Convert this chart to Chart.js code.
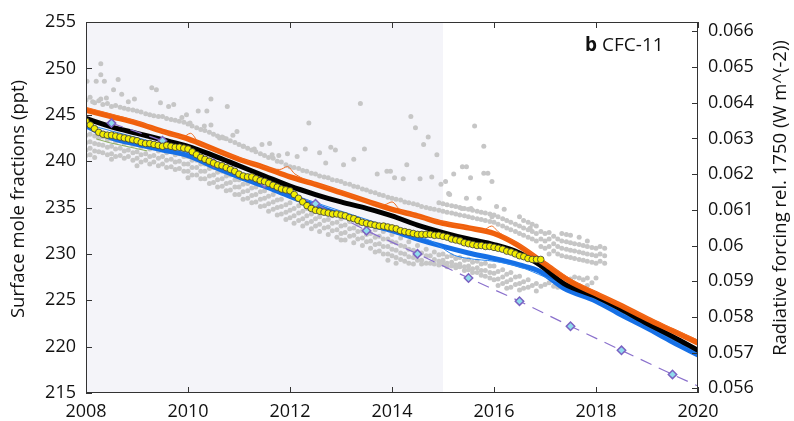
<!DOCTYPE html>
<html>
<head>
<meta charset="utf-8">
<script src="https://cdn.jsdelivr.net/npm/chart.js@4.4.1/dist/chart.umd.min.js"></script>
<style>
  html, body { margin: 0; padding: 0; background: #fff; }
  #wrap { width: 794px; height: 421px; }
</style>
</head>
<body>
<div id="wrap"><canvas id="cfcChart" width="794" height="421"></canvas></div>
<script>
// axes
const xTicks = [2008, 2010, 2012, 2014, 2016, 2018, 2020];
const pptTicks = [215, 220, 225, 230, 235, 240, 245, 250, 255];
const forcingTicks = [0.056, 0.057, 0.058, 0.059, 0.06, 0.061, 0.062, 0.063, 0.064, 0.065, 0.066];
const forcingPerPpt = 0.00025985;
const shadeFrom = 2008;
const shadeTo = 2015;

// thick model lines
const orangeYears = [2008, 2008.5, 2009, 2009.5, 2010, 2010.5, 2011, 2011.5, 2012, 2012.5, 2013, 2013.5, 2014, 2014.5, 2015, 2015.5, 2016, 2016.45, 2017, 2017.5, 2018, 2018.5, 2019, 2019.5, 2020];
const orangeValues = [245.5, 244.8, 244.1, 243.2, 242.4, 241.3, 240.2, 239.3, 238.3, 237.5, 236.6, 235.7, 234.8, 234.1, 233.3, 232.8, 232.2, 231.0, 228.9, 227.0, 225.7, 224.4, 223.0, 221.7, 220.4];

const orangeThinYears = [2008, 2009, 2009.9, 2010.05, 2010.2, 2011, 2011.8, 2011.95, 2012.1, 2013, 2013.85, 2014.0, 2014.15, 2015, 2015.8, 2015.95, 2016.1, 2016.45, 2017, 2017.5, 2018, 2019, 2020];
const orangeThinValues = [245.8, 244.3, 242.6, 243.0, 242.1, 240.4, 239.1, 239.4, 238.6, 236.8, 235.3, 235.6, 234.8, 233.5, 232.6, 233.0, 232.3, 231.2, 229.1, 227.3, 225.9, 223.2, 220.7];

const blackYears = [2008, 2008.5, 2009, 2009.5, 2010, 2010.5, 2011, 2011.5, 2012, 2012.5, 2013, 2013.5, 2014, 2014.5, 2015, 2015.5, 2016, 2016.5, 2016.9, 2017.37, 2018, 2018.5, 2019, 2019.5, 2020];
const blackValues = [244.6, 243.7, 243.0, 242.3, 241.6, 240.6, 239.5, 238.4, 237.3, 236.4, 235.6, 234.9, 234.1, 233.1, 232.3, 231.6, 231.0, 230.1, 228.8, 226.8, 225.4, 224.0, 222.5, 221.1, 219.6];

const blueYears = [2008, 2008.5, 2009, 2009.5, 2010, 2010.5, 2011, 2011.5, 2012, 2012.5, 2013, 2013.5, 2014, 2014.5, 2015, 2015.5, 2016, 2016.5, 2016.9, 2017.37, 2018, 2018.5, 2019, 2019.5, 2020];
const blueValues = [243.8, 242.5, 241.8, 241.2, 240.6, 239.4, 238.3, 237.3, 236.2, 235.2, 234.2, 233.3, 232.5, 231.6, 230.8, 230.1, 229.5, 228.8, 228.1, 226.3, 224.9, 223.4, 222.0, 220.5, 219.1];

const blueThinYears = [2008, 2010, 2012, 2014, 2014.8, 2015.2, 2015.5, 2016, 2016.5, 2017, 2018, 2019, 2020];
const blueThinValues = [244.0, 240.9, 236.5, 232.8, 231.3, 229.9, 229.5, 229.2, 228.6, 227.5, 225.1, 222.2, 219.3];

const greenYears = [2008.2, 2008.45, 2008.7, 2008.95, 2009.2];
const greenValues = [242.4, 242.0, 241.7, 241.4, 241.1];

// projection with diamonds
const purpleYears = [2008.5, 2009.5, 2010.5, 2011.5, 2012.5, 2013.5, 2014.5, 2015.5, 2016.5, 2017.5, 2018.5, 2019.5, 2020.0];
const purpleValues = [244.1, 242.2, 239.8, 237.6, 235.4, 232.5, 230.0, 227.4, 224.9, 222.2, 219.6, 217.0, 215.75];

// monthly observed mean (yellow circles), Jan 2008 .. Dec 2016
const yellowStart = 2008;
const yellowValues = [
  244.3, 243.9, 243.5, 243.1, 242.9, 242.8, 242.8, 242.7, 242.6, 242.5, 242.4, 242.3,
  242.2, 242.0, 241.9, 241.9, 241.8, 241.7, 241.6, 241.7, 241.6, 241.5, 241.5, 241.4,
  241.3, 241.0, 240.7, 240.4, 240.2, 240.0, 239.8, 239.6, 239.5, 239.3, 239.1, 238.9,
  238.6, 238.4, 238.3, 238.3, 238.1, 237.9, 237.8, 237.6, 237.4, 237.2, 237.0, 236.9,
  236.8, 236.4, 236.0, 235.6, 235.2, 234.9, 234.7, 234.6, 234.5, 234.4, 234.3, 234.3,
  234.2, 234.1, 233.9, 233.8, 233.6, 233.4, 233.3, 233.2, 233.1, 233.0, 233.0, 232.9,
  232.8, 232.7, 232.5, 232.4, 232.3, 232.2, 232.1, 232.1, 232.1, 232.1, 232.0, 232.0,
  231.9, 231.8, 231.6, 231.5, 231.4, 231.2, 231.1, 231.0, 230.9, 230.9, 230.8, 230.8,
  230.7, 230.6, 230.5, 230.3, 230.2, 230.0, 229.8, 229.7, 229.5, 229.4, 229.4, 229.4
];

// station observations (gray dots): first entry of each row is the year
const grayColumns = [
  [2008.00, 246.6, 242.8, 242.0, 241.2, 240.6],
  [2008.08, 246.9, 242.9, 242.1, 241.4, 240.7],
  [2008.17, 246.3, 242.7, 241.9, 241.1, 240.4],
  [2008.25, 246.5, 242.5, 241.8, 241.0],
  [2008.33, 246.1, 242.6, 241.7, 240.9],
  [2008.42, 246.2, 242.3, 241.5, 240.7],
  [2008.50, 245.9, 242.4, 241.6, 240.8, 240.2],
  [2008.58, 246.0, 242.1, 241.3, 240.5],
  [2008.67, 245.8, 242.2, 241.4, 240.6],
  [2008.75, 245.7, 241.9, 241.1, 240.3],
  [2008.83, 245.6, 242.0, 241.2, 240.5],
  [2008.92, 245.5, 241.7, 240.9, 240.1],
  [2009.00, 245.4, 241.8, 241.0, 240.3, 239.5],
  [2009.08, 245.3, 241.5, 240.7, 239.9],
  [2009.17, 245.1, 241.6, 240.8, 240.1],
  [2009.25, 245.0, 241.3, 240.5, 239.7],
  [2009.33, 244.9, 241.5, 240.6, 239.9],
  [2009.42, 244.8, 241.1, 240.3, 239.5],
  [2009.50, 244.8, 241.3, 240.5, 239.7],
  [2009.58, 244.6, 240.9, 240.1, 239.3],
  [2009.67, 244.5, 241.0, 240.2, 239.4],
  [2009.75, 244.4, 240.7, 239.9, 239.1],
  [2009.83, 244.3, 240.8, 240.0, 239.2],
  [2009.92, 244.2, 240.5, 239.7, 238.9],
  [2010.00, 244.0, 240.5, 239.7, 238.9, 238.2],
  [2010.08, 243.8, 240.1, 239.3, 238.5],
  [2010.17, 243.6, 240.1, 239.3, 238.5],
  [2010.25, 243.4, 239.7, 238.9, 238.1],
  [2010.33, 243.3, 239.7, 238.9, 238.1],
  [2010.42, 243.1, 239.2, 238.4, 237.6],
  [2010.50, 242.9, 239.3, 238.5, 237.7],
  [2010.58, 242.7, 238.8, 238.0, 237.2],
  [2010.67, 242.6, 238.9, 238.1, 237.3],
  [2010.75, 242.4, 238.4, 237.6, 236.8],
  [2010.83, 242.2, 238.5, 237.7, 236.9],
  [2010.92, 242.0, 238.0, 237.2, 236.4],
  [2011.00, 241.8, 238.0, 237.2, 236.4],
  [2011.08, 241.6, 237.5, 236.7, 235.9],
  [2011.17, 241.4, 237.6, 236.8, 236.0],
  [2011.25, 241.2, 237.1, 236.3, 235.5],
  [2011.33, 241.0, 237.2, 236.4, 235.6],
  [2011.42, 240.8, 236.7, 235.9, 235.1],
  [2011.50, 240.6, 236.8, 236.0, 235.2],
  [2011.58, 240.4, 236.2, 235.4, 234.6],
  [2011.67, 240.3, 236.4, 235.6, 234.8],
  [2011.75, 240.0, 235.8, 235.0, 234.2],
  [2011.83, 239.9, 235.9, 235.1, 234.3],
  [2011.92, 239.6, 235.3, 234.5, 233.7],
  [2012.00, 239.4, 235.5, 234.7, 233.9],
  [2012.08, 239.3, 234.9, 234.1, 233.3],
  [2012.17, 239.2, 235.2, 234.4, 233.6],
  [2012.25, 239.0, 234.6, 233.8, 233.0],
  [2012.33, 238.9, 234.9, 234.1, 233.3],
  [2012.42, 238.7, 234.3, 233.5, 232.7],
  [2012.50, 238.6, 234.6, 233.8, 233.0],
  [2012.58, 238.4, 234.0, 233.2, 232.4],
  [2012.67, 238.3, 234.4, 233.6, 232.8],
  [2012.75, 238.2, 233.7, 232.9, 232.1],
  [2012.83, 238.0, 234.1, 233.3, 232.5],
  [2012.92, 237.9, 233.4, 232.6, 231.8],
  [2013.00, 237.8, 233.8, 233.0, 232.2, 231.5],
  [2013.08, 237.6, 233.1, 232.3, 231.5],
  [2013.17, 237.5, 233.5, 232.7, 231.9],
  [2013.25, 237.3, 232.8, 232.0, 231.2],
  [2013.33, 237.2, 233.2, 232.4, 231.6],
  [2013.42, 237.0, 232.5, 231.7, 230.9],
  [2013.50, 236.9, 232.9, 232.1, 231.3],
  [2013.58, 236.7, 232.2, 231.4, 230.6],
  [2013.67, 236.6, 232.6, 231.8, 231.0, 230.2],
  [2013.75, 236.4, 231.9, 231.1, 230.3],
  [2013.83, 236.3, 232.4, 231.6, 230.8, 230.0],
  [2013.92, 236.1, 231.6, 230.8, 230.0, 229.3],
  [2014.00, 236.0, 232.1, 231.3, 230.5, 229.8],
  [2014.08, 235.9, 231.2, 230.4, 229.6, 229.0],
  [2014.17, 235.8, 231.7, 230.9, 230.1, 229.4],
  [2014.25, 235.6, 230.8, 230.0, 229.2],
  [2014.33, 235.5, 231.3, 230.5, 229.7, 229.0],
  [2014.42, 235.4, 230.4, 229.6, 228.9],
  [2014.50, 235.3, 230.9, 230.1, 229.3],
  [2014.58, 235.1, 230.1, 229.3, 228.9],
  [2014.67, 235.0, 230.5, 229.8, 229.0],
  [2014.75, 234.9, 229.8, 229.0],
  [2014.83, 234.8, 230.2, 229.4, 228.9],
  [2014.92, 234.7, 235.5, 229.9, 229.2, 228.8],
  [2015.00, 234.6, 235.4, 230.0, 229.3, 228.9],
  [2015.08, 234.5, 235.3, 229.7, 229.0, 228.6],
  [2015.17, 234.4, 235.2, 229.8, 229.1, 228.7],
  [2015.25, 234.3, 235.1, 229.5, 228.8, 228.5],
  [2015.33, 234.2, 235.0, 229.6, 228.9, 228.6],
  [2015.42, 234.1, 234.9, 229.3, 228.6, 228.2],
  [2015.50, 234.0, 234.8, 229.4, 228.7, 228.3],
  [2015.58, 233.9, 234.7, 229.1, 228.4, 228.0],
  [2015.67, 233.8, 234.6, 229.2, 228.5, 228.0],
  [2015.75, 233.7, 234.5, 228.9, 228.2, 227.7],
  [2015.83, 233.6, 234.4, 229.0, 228.2, 227.6],
  [2015.92, 233.5, 234.3, 228.7, 228.0, 227.4],
  [2016.00, 233.4, 234.2, 228.7, 227.9, 227.2],
  [2016.08, 233.2, 234.0, 228.1, 227.3, 226.6],
  [2016.17, 233.0, 233.8, 228.3, 227.5, 226.8],
  [2016.25, 232.8, 233.6, 227.8, 227.0, 226.3],
  [2016.33, 232.6, 233.4, 228.0, 227.2, 226.4],
  [2016.42, 232.4, 233.2, 227.5, 226.7],
  [2016.50, 232.2, 233.0, 234.0, 227.6, 226.8, 226.1],
  [2016.58, 232.0, 232.8, 233.6, 227.0, 226.3],
  [2016.67, 231.8, 232.6, 233.4, 227.2, 226.4],
  [2016.75, 231.6, 232.4, 233.2, 226.6],
  [2016.83, 231.4, 232.2, 233.0, 226.8, 226.0],
  [2016.92, 230.8, 231.6, 232.4, 226.5],
  [2017.00, 230.6, 231.4, 232.2, 226.7],
  [2017.08, 230.0, 230.8, 231.6, 232.3, 226.9],
  [2017.17, 230.3, 231.1, 231.9, 227.3, 226.5],
  [2017.25, 230.0, 230.8, 231.6, 227.1, 226.4],
  [2017.33, 229.8, 230.6, 231.4, 232.2, 227.0, 226.4],
  [2017.42, 229.7, 230.5, 231.3, 232.1, 226.6],
  [2017.50, 229.6, 230.4, 231.2, 232.0, 227.3, 226.6],
  [2017.58, 229.5, 230.3, 231.1, 227.5, 226.7],
  [2017.67, 229.4, 230.2, 231.0, 231.8, 227.4, 226.6],
  [2017.75, 229.3, 230.1, 230.9, 227.2],
  [2017.83, 229.2, 230.0, 230.8, 231.4, 227.4, 226.6],
  [2017.92, 229.1, 229.9, 230.7, 226.9],
  [2018.00, 229.0, 229.8, 230.6, 227.4],
  [2018.08, 229.2, 230.0, 230.8],
  [2018.17, 229.0, 229.8, 230.6]
];
const grayOutYears = [2008.29, 2008.29, 2008.02, 2008.2, 2008.36, 2008.63, 2008.54, 2008.7, 2009.29, 2009.38, 2008.13, 2008.29, 2008.4, 2008.95, 2008.83, 2009.46, 2009.62, 2009.72, 2010.45, 2010.77, 2010.37, 2010.2, 2009.97, 2009.88, 2010.04, 2010.32, 2010.45, 2010.62, 2010.7, 2010.88, 2010.96, 2011.09, 2011.45, 2011.6, 2011.3, 2011.65, 2011.78, 2011.95, 2012.14, 2012.37, 2012.3, 2012.58, 2012.89, 2012.8, 2013.05, 2012.7, 2013.25, 2013.38, 2013.46, 2013.71, 2013.9, 2013.97, 2014.05, 2014.37, 2014.46, 2014.62, 2014.71, 2014.88, 2014.96, 2015.11, 2014.29, 2014.55, 2014.78, 2014.22, 2015.05, 2015.13, 2015.21, 2015.38, 2015.46, 2015.62, 2015.54, 2015.8, 2015.8, 2015.88, 2015.96, 2015.46, 2015.71, 2015.37, 2015.55, 2015.96, 2016.05, 2016.2, 2016.71];
const grayOutValues = [250.5, 249.3, 248.6, 248.6, 248.6, 248.8, 247.7, 247.2, 247.9, 247.7, 246.4, 246.7, 246.8, 246.7, 246.4, 246.3, 245.9, 246.1, 246.7, 245.9, 245.4, 245.4, 245.0, 244.7, 244.1, 243.8, 243.9, 242.5, 242.5, 242.8, 243.2, 241.6, 241.8, 241.9, 241.3, 240.7, 240.6, 240.8, 240.5, 244.1, 241.3, 240.9, 241.2, 241.5, 239.6, 239.8, 240.2, 246.2, 241.3, 238.6, 238.9, 238.9, 238.2, 244.8, 243.6, 241.8, 242.6, 240.7, 237.5, 236.5, 239.6, 238.1, 238.3, 238.1, 237.8, 236.4, 238.6, 239.4, 239.4, 243.8, 238.2, 241.6, 238.7, 238.7, 237.8, 236.0, 236.0, 234.9, 234.9, 234.0, 235.1, 234.8, 232.8];

const toPoints = (xs, ys) => xs.map((x, i) => ({ x: x, y: ys[i] }));

const grayBand = [];
grayColumns.forEach((col) => {
  for (let i = 1; i < col.length; i++) grayBand.push({ x: col[0], y: col[i] });
});
const yellowPoints = yellowValues.map((v, i) => ({ x: yellowStart + i / 12, y: v }));

const FONT = '"Open Sans", "Noto Sans", sans-serif';

const framePlugin = {
  id: "framePlugin",
  beforeDatasetsDraw(chart) {
    const { ctx, chartArea: a, scales } = chart;
    const x0 = scales.x.getPixelForValue(shadeFrom);
    const x1 = scales.x.getPixelForValue(shadeTo);
    ctx.save();
    ctx.fillStyle = "#f4f4f9";
    ctx.fillRect(x0, a.top, x1 - x0, a.bottom - a.top);
    ctx.restore();
  },
  afterDraw(chart) {
    const { ctx, chartArea: a, scales } = chart;
    ctx.save();
    ctx.strokeStyle = "#333";
    ctx.lineWidth = 1;
    ctx.strokeRect(a.left + 0.5, a.top + 0.5, a.right - a.left - 1, a.bottom - a.top - 1);

    // inward tick marks
    ctx.beginPath();
    xTicks.forEach((t) => {
      const px = Math.round(scales.x.getPixelForValue(t)) + 0.5;
      ctx.moveTo(px, a.bottom);
      ctx.lineTo(px, a.bottom - 6);
      ctx.moveTo(px, a.top);
      ctx.lineTo(px, a.top + 6);
    });
    pptTicks.forEach((t) => {
      const py = Math.round(scales.y.getPixelForValue(t)) + 0.5;
      ctx.moveTo(a.left, py);
      ctx.lineTo(a.left + 6, py);
    });
    forcingTicks.forEach((t) => {
      const py = Math.round(scales.y2.getPixelForValue(t)) + 0.5;
      ctx.moveTo(a.right, py);
      ctx.lineTo(a.right - 6, py);
    });
    ctx.stroke();

    // axis titles
    ctx.fillStyle = "#111";
    ctx.font = "18.5px " + FONT;
    ctx.textAlign = "center";
    ctx.textBaseline = "middle";
    ctx.save();
    ctx.translate(19, 199);
    ctx.rotate(-Math.PI / 2);
    ctx.fillText("Surface mole fractions (ppt)", 0, 0);
    ctx.restore();
    ctx.save();
    ctx.translate(781, 198);
    ctx.rotate(-Math.PI / 2);
    ctx.fillText("Radiative forcing rel. 1750 (W m^(-2))", 0, 0);
    ctx.restore();

    // panel label
    ctx.textAlign = "left";
    ctx.font = "bold 19px " + FONT;
    ctx.fillText("b", 585, 46);
    const bw = ctx.measureText("b").width;
    ctx.font = "19px " + FONT;
    ctx.fillText("CFC-11", 585 + bw + 5, 46);
    ctx.restore();
  },
};

const ctx = document.getElementById("cfcChart").getContext("2d");

new Chart(ctx, {
  type: "line",
  data: {
    datasets: [
      {
        label: "Observed mean",
        data: yellowPoints,
        borderColor: "#111",
        borderWidth: 1,
        borderDash: [3, 2],
        pointRadius: 3.3,
        pointBackgroundColor: "#f3ee00",
        pointBorderColor: "#3a3a3a",
        pointBorderWidth: 0.8,
        tension: 0,
      },
      {
        label: "Projection",
        data: toPoints(purpleYears, purpleValues),
        borderColor: "#8a70cc",
        borderWidth: 1.2,
        borderDash: [12, 8],
        pointStyle: "rectRot",
        pointRadius: purpleValues.map((v, i) => (i === purpleValues.length - 1 ? 0 : 4.2)),
        pointBackgroundColor: "#8fdcec",
        pointBorderColor: "#7b61c2",
        pointBorderWidth: 1.5,
        tension: 0,
      },
      {
        label: "Orange member",
        data: toPoints(orangeThinYears, orangeThinValues),
        borderColor: "#f26b1d",
        borderWidth: 1,
        pointRadius: 0,
        cubicInterpolationMode: "monotone",
      },
      {
        label: "Orange",
        data: toPoints(orangeYears, orangeValues),
        borderColor: "#f0600c",
        borderWidth: 5.5,
        pointRadius: 0,
        cubicInterpolationMode: "monotone",
      },
      {
        label: "Black",
        data: toPoints(blackYears, blackValues),
        borderColor: "#000",
        borderWidth: 5,
        pointRadius: 0,
        cubicInterpolationMode: "monotone",
      },
      {
        label: "Blue member",
        data: toPoints(blueThinYears, blueThinValues),
        borderColor: "#2a86f0",
        borderWidth: 1,
        pointRadius: 0,
        cubicInterpolationMode: "monotone",
      },
      {
        label: "Blue",
        data: toPoints(blueYears, blueValues),
        borderColor: "#1670e6",
        borderWidth: 5,
        pointRadius: 0,
        cubicInterpolationMode: "monotone",
      },
      {
        label: "Green",
        data: toPoints(greenYears, greenValues),
        borderColor: "#8fb060",
        borderWidth: 1,
        pointRadius: 0,
      },
      {
        label: "Stations (outliers)",
        data: toPoints(grayOutYears, grayOutValues),
        showLine: false,
        pointRadius: 2.5,
        pointBorderWidth: 0,
        pointBackgroundColor: "#c6c6c6",
      },
      {
        label: "Stations",
        data: grayBand,
        showLine: false,
        pointRadius: 2.5,
        pointBorderWidth: 0,
        pointBackgroundColor: "#c6c6c6",
      },
    ],
  },
  options: {
    responsive: false,
    animation: false,
    layout: { padding: { top: 22, left: 0, right: 0, bottom: 0 } },
    plugins: {
      legend: { display: false },
      tooltip: { enabled: false },
    },
    scales: {
      x: {
        type: "linear",
        min: 2008,
        max: 2020,
        afterBuildTicks: (scale) => {
          scale.ticks = xTicks.map((v) => ({ value: v }));
        },
        afterFit: (scale) => {
          scale.height = 28;
        },
        grid: { display: false, drawTicks: false },
        border: { display: false },
        ticks: {
          padding: 8,
          color: "#111",
          font: { family: FONT, size: 18 },
          callback: (v) => String(v),
        },
      },
      y: {
        position: "left",
        min: 215,
        max: 255,
        afterBuildTicks: (scale) => {
          scale.ticks = pptTicks.map((v) => ({ value: v }));
        },
        afterFit: (scale) => {
          scale.width = 86;
        },
        grid: { display: false, drawTicks: false },
        border: { display: false },
        ticks: {
          padding: 10,
          color: "#111",
          font: { family: FONT, size: 18 },
        },
      },
      y2: {
        position: "right",
        min: 215 * forcingPerPpt,
        max: 255 * forcingPerPpt,
        afterBuildTicks: (scale) => {
          scale.ticks = forcingTicks.map((v) => ({ value: v }));
        },
        afterFit: (scale) => {
          scale.width = 96;
        },
        grid: { display: false, drawTicks: false },
        border: { display: false },
        ticks: {
          padding: 10,
          color: "#111",
          font: { family: FONT, size: 18 },
          callback: (v) => String(Number(v.toFixed(3))),
        },
      },
    },
  },
  plugins: [framePlugin],
});
</script>
</body>
</html>
